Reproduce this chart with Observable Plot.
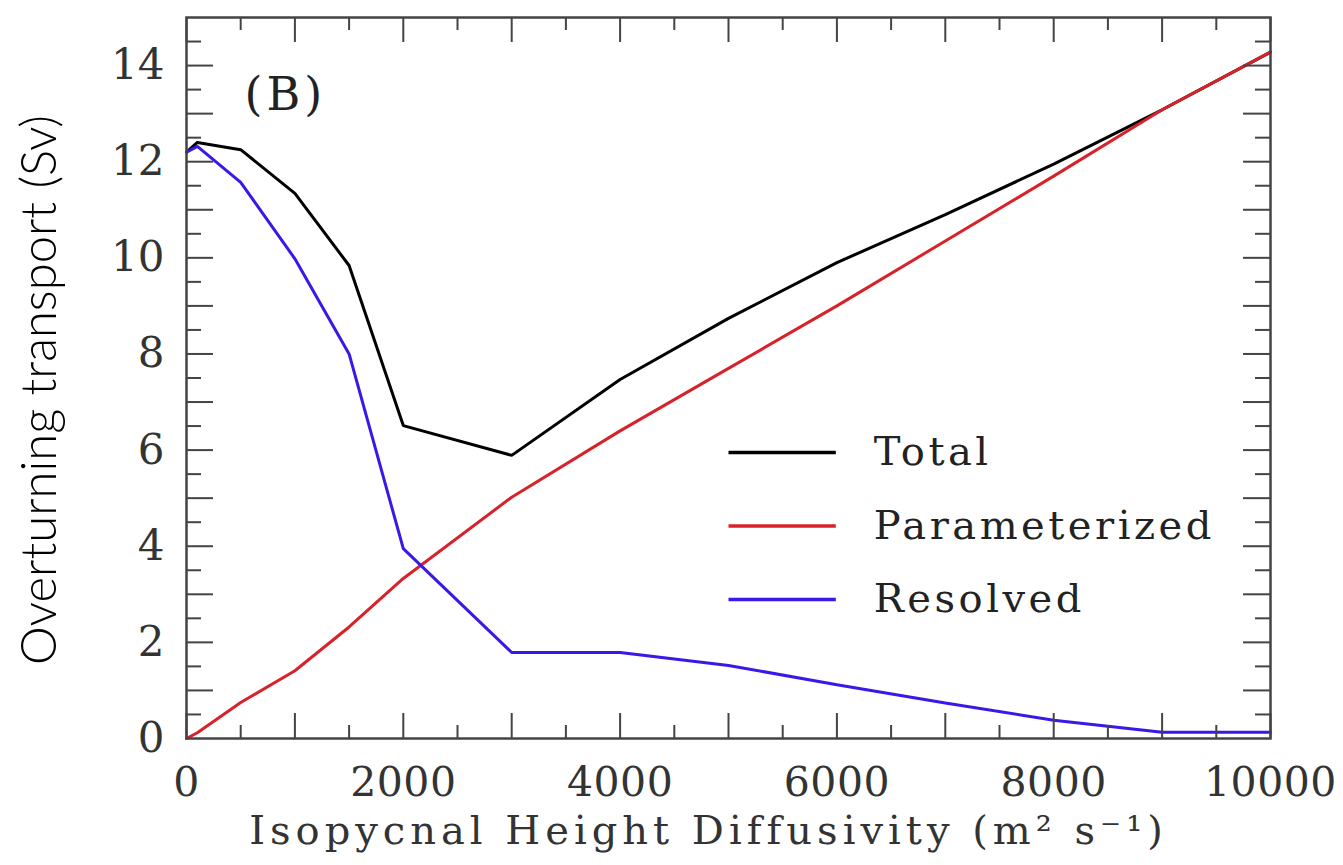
<!DOCTYPE html>
<html>
<head>
<meta charset="utf-8">
<script src="https://cdn.jsdelivr.net/npm/d3@7"></script>
<script src="https://cdn.jsdelivr.net/npm/@observablehq/plot@0.6"></script>
<style>
  html, body { margin: 0; padding: 0; background: #fff; }
  #chart { width: 1343px; height: 865px; }
</style>
</head>
<body>
<div id="chart"></div>
<script>
// Isopycnal height diffusivity (m^2 s^-1) for each model run
const diffusivity = [0, 100, 500, 1000, 1500, 2000, 3000, 4000, 5000, 6000, 7000, 8000, 9000, 10000];
// Overturning transport components (Sv)
const total         = [12.2, 12.4, 12.25, 11.34, 9.84, 6.51, 5.89, 7.47, 8.74, 9.9, 10.9, 11.95, 13.08, 14.28];
const parameterized = [0.0, 0.12, 0.75, 1.41, 2.32, 3.33, 5.02, 6.4, 7.7, 9.0, 10.35, 11.7, 13.08, 14.28];
const resolved      = [12.2, 12.32, 11.57, 9.98, 8.0, 3.95, 1.79, 1.79, 1.52, 1.12, 0.74, 0.38, 0.13, 0.13];

const seriesNames  = ["Total", "Parameterized", "Resolved"];
const seriesValues = [total, parameterized, resolved];
const seriesColors = ["#000000", "#d8222a", "#3b17e8"];

// axis ticks
const xLabelTicks = [0, 2000, 4000, 6000, 8000, 10000];
const xMajorTicks = d3.range(0, 10001, 1000);
const xMinorTicks = d3.range(500, 10000, 1000);
const yLabelTicks = [0, 2, 4, 6, 8, 10, 12, 14];
const yMajorTicks = d3.range(1, 15, 1);
const yMinorTicks = d3.range(0.5, 15, 1);

const panelTag = "(B)";
const xTitle = "Isopycnal Height Diffusivity (m\u00B2 s\u207B\u00B9)";
const yTitle = "Overturning transport (Sv)";

const rows = seriesNames.flatMap((name, s) =>
  diffusivity.map((x, i) => ({series: name, x, y: seriesValues[s][i]}))
);

const W = 1343, H = 865;
const mL = 186, mR = 73, mT = 17, mB = 127;
const fw = W - mL - mR, fh = H - mT - mB;
const axisColor = "#444";
const serif = "DejaVu Serif, serif";

const legendRows = seriesNames.map((name, i) => ({name, color: seriesColors[i], y: 5.95 - i * 1.53}));

const chart = Plot.plot({
  width: W,
  height: H,
  marginLeft: mL,
  marginRight: mR,
  marginTop: mT,
  marginBottom: mB,
  style: {background: "#fff", fontFamily: serif},
  x: {domain: [0, 10000]},
  y: {domain: [0, 15]},
  marks: [
    // series lines
    Plot.line(rows, {x: "x", y: "y", z: "series",
      stroke: d => seriesColors[seriesNames.indexOf(d.series)],
      strokeWidth: 3, strokeLinejoin: "miter"}),

    // inward ticks on all four sides
    Plot.tickX(xMajorTicks, {x: d => d, insetTop: fh - 25, stroke: axisColor, strokeWidth: 2}),
    Plot.tickX(xMinorTicks, {x: d => d, insetTop: fh - 13, stroke: axisColor, strokeWidth: 2}),
    Plot.tickX(xMajorTicks, {x: d => d, insetBottom: fh - 25, stroke: axisColor, strokeWidth: 2}),
    Plot.tickX(xMinorTicks, {x: d => d, insetBottom: fh - 13, stroke: axisColor, strokeWidth: 2}),
    Plot.tickY(yMajorTicks, {y: d => d, insetRight: fw - 27, stroke: axisColor, strokeWidth: 2}),
    Plot.tickY(yMinorTicks, {y: d => d, insetRight: fw - 15, stroke: axisColor, strokeWidth: 2}),
    Plot.tickY(yMajorTicks, {y: d => d, insetLeft: fw - 27, stroke: axisColor, strokeWidth: 2}),
    Plot.tickY(yMinorTicks, {y: d => d, insetLeft: fw - 15, stroke: axisColor, strokeWidth: 2}),

    Plot.frame({stroke: axisColor, strokeWidth: 2.5}),

    // tick labels
    Plot.axisX({ticks: xLabelTicks, tickSize: 0, tickPadding: 28, label: null,
      fontSize: 41, fill: "#333", tickFormat: d => String(d)}),
    Plot.axisY({ticks: yLabelTicks, tickSize: 0, tickPadding: 22, label: null,
      fontSize: 42, fill: "#333", tickFormat: d => String(d)}),

    // panel tag
    Plot.text([panelTag], {frameAnchor: "top-left", dx: 58, dy: 78, textAnchor: "start",
      lineAnchor: "middle", fontSize: 46, fill: "#222"}),

    // legend
    Plot.link(legendRows, {x1: 5000, x2: 5990, y1: "y", y2: "y", stroke: "color", strokeWidth: 3.5}),
    Plot.text(legendRows, {x: 6340, y: "y", text: "name", textAnchor: "start",
      lineAnchor: "middle", fontSize: 40, fill: "#222"}),

    // x axis title
    Plot.text([xTitle], {
      frameAnchor: "bottom", dx: -20, dy: 93, lineAnchor: "middle", fontSize: 40, fill: "#333"}),

    // y axis title
    Plot.text([yTitle], {
      frameAnchor: "left", textAnchor: "middle", dx: -146, dy: 12, rotate: -90, lineAnchor: "middle",
      fontSize: 49, fontFamily: "Lato, sans-serif", fontWeight: 300, fill: "#000"})
  ]
});

// the serif face is set wide, with open letter spacing
const spacing = new Map([
  [xTitle, "5px"],
  [panelTag, "4px"],
  ...seriesNames.map(n => [n, "3.5px"])
]);
d3.select(chart).selectAll("text").each(function() {
  const s = spacing.get(this.textContent);
  if (s) d3.select(this).style("letter-spacing", s);
});
d3.select(chart).selectAll('g[aria-label="x-axis tick label"] text')
  .style("letter-spacing", "0.5px");

document.getElementById("chart").appendChild(chart);
</script>
</body>
</html>
